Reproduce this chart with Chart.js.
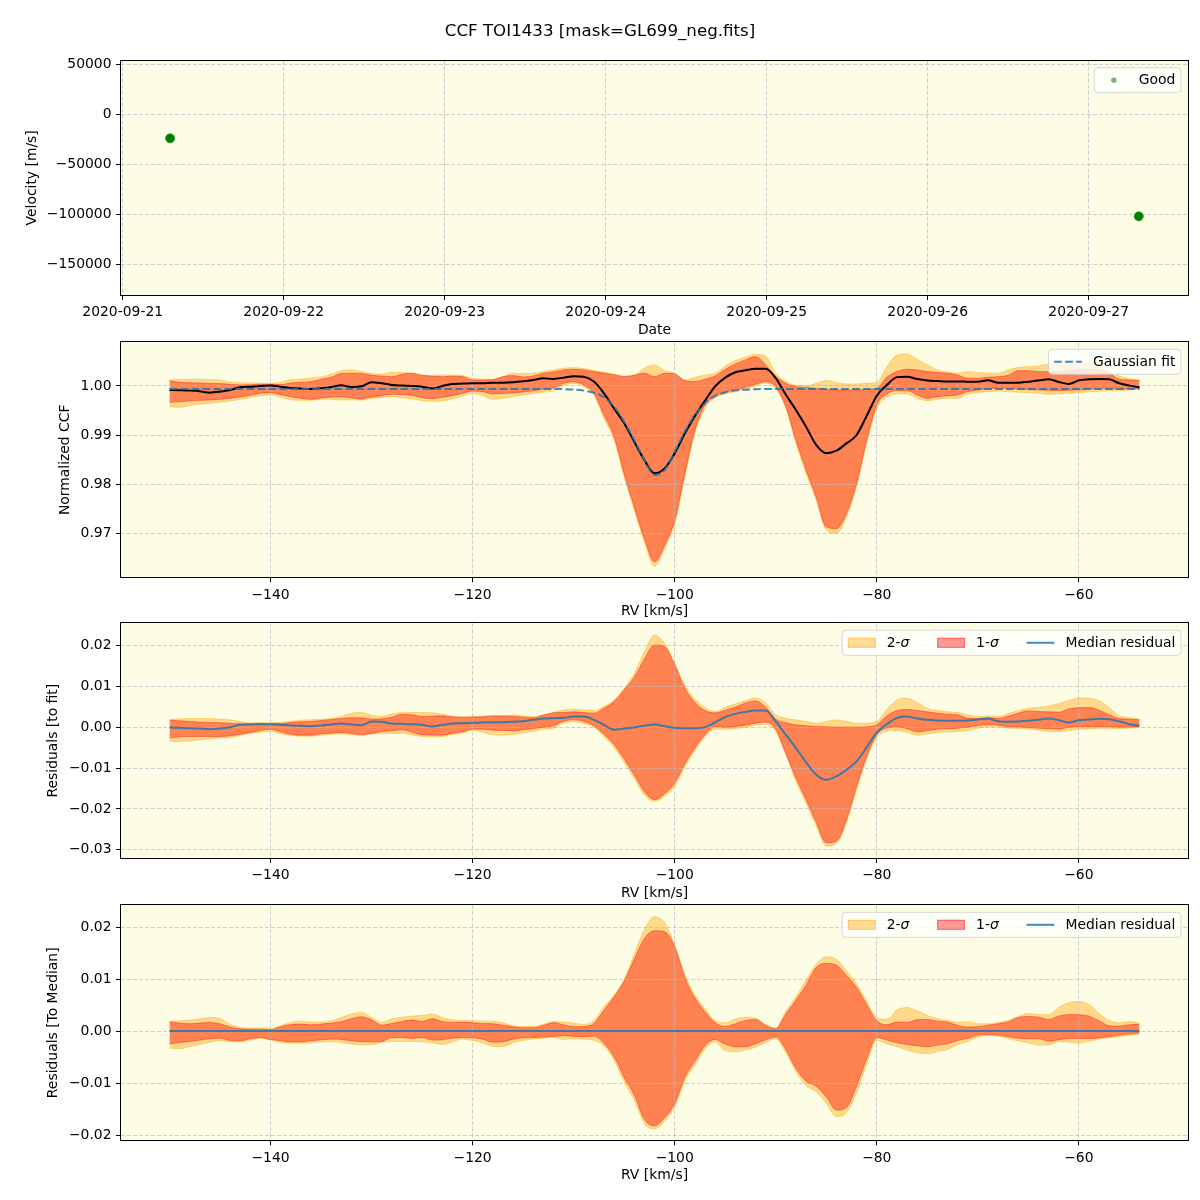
<!DOCTYPE html>
<html><head><meta charset="utf-8">
<script src="https://cdn.jsdelivr.net/npm/chart.js@4.4.1/dist/chart.umd.min.js"></script>
<style>
body{margin:0;background:#fff}
#wrap{position:relative;width:1200px;height:1200px}
#wrap canvas{position:absolute;left:0;top:0}
</style></head>
<body><div id="wrap">
<canvas id="c1" width="1200" height="1200"></canvas>
<canvas id="c2" width="1200" height="1200"></canvas>
<canvas id="c3" width="1200" height="1200"></canvas>
<canvas id="c4" width="1200" height="1200"></canvas>
</div>
<script>
// ---------------- DATA ----------------
const chartTitle = 'CCF TOI1433 [mask=GL699_neg.fits]';

// Panel 1: velocities
const obsDates = ['2020-09-21T07:04', '2020-09-27T07:28'];
const obsVelocity = [-24000, -102000];
const dateTicks = ['2020-09-21','2020-09-22','2020-09-23','2020-09-24','2020-09-25','2020-09-26','2020-09-27'];
const velTicks = [-150000, -100000, -50000, 0, 50000];

// RV grid (km/s)
const rv = [
-150,-149,-148,-147,-146,-145,-144,-143,-142,-141,
-140,-139,-138,-137,-136,-135,-134,-133,-132,-131,
-130,-129,-128,-127,-126,-125,-124,-123,-122,-121,
-120,-119,-118,-117,-116,-115,-114,-113,-112,-111,
-110,-109,-108,-107,-106,-105,-104,-103,-102,-101,
-100,-99,-98,-97,-96,-95,-94,-93,-92,-91,
-90,-89,-88,-87,-86,-85,-84,-83,-82,-81,
-80,-79,-78,-77,-76,-75,-74,-73,-72,-71,
-70,-69,-68,-67,-66,-65,-64,-63,-62,-61,
-60,-59,-58,-57,-56,-55,-54];
const rvTicks = [-140, -120, -100, -80, -60];

// Panel 2: normalized CCF
const ccfMedian = [
0.99918,0.99912,0.99905,0.99891,0.99864,0.99884,0.99918,0.99973,0.99986,1.00000,
1.00007,0.99986,0.99959,0.99946,0.99939,0.99952,0.99980,1.00014,0.99980,0.99993,
1.00075,1.00054,1.00020,1.00007,1.00000,0.99986,0.99946,1.00000,1.00041,1.00048,
1.00054,1.00054,1.00068,1.00068,1.00075,1.00095,1.00122,1.00156,1.00143,1.0017,
1.0020,1.0019,1.0009,0.9985,0.9954,0.9924,0.9886,0.9849,0.9822,0.9832,
0.9863,0.9903,0.9939,0.9970,0.9999,1.0017,1.0028,1.0032,1.0035,1.0035,
1.0016,0.9982,0.9951,0.9917,0.9880,0.9863,0.9868,0.9883,0.9900,0.9939,
0.9980,1.0002,1.0018,1.0019,1.0014,1.0011,1.0010,1.0009,1.0009,1.00088,
1.00088,1.00115,1.00068,1.00068,1.00068,1.00088,1.00109,1.00136,1.00081,1.00041,
1.00115,1.00136,1.00143,1.00136,1.00054,1.00007,0.99973];
const ccfGaussFit = [
0.9994,0.9994,0.9994,0.9994,0.9994,0.9994,0.9994,0.9994,0.9994,0.9994,
0.9994,0.9994,0.9994,0.9994,0.9994,0.9994,0.9994,0.9994,0.9994,0.9994,
0.9994,0.9994,0.9994,0.9994,0.9994,0.9994,0.9994,0.9994,0.9994,0.9994,
0.9994,0.9994,0.9994,0.9994,0.9994,0.9994,0.9994,0.9994,0.9994,0.99935,
0.99925,0.99905,0.99864,0.99769,0.99578,0.99272,0.98898,0.98490,0.98184,0.98286,
0.98660,0.99068,0.99408,0.99646,0.99796,0.99870,0.99910,0.99925,0.99935,0.9994,
0.9994,0.9994,0.9994,0.9994,0.9994,0.9994,0.9994,0.9994,0.9994,0.9994,
0.9994,0.9994,0.9994,0.9994,0.9994,0.9994,0.9994,0.9994,0.9994,0.9994,
0.9994,0.9994,0.9994,0.9994,0.9994,0.9994,0.9994,0.9994,0.9994,0.9994,
0.9994,0.9994,0.9994,0.9994,0.9994,0.9994,0.9994];
const ccfUpper2 = [
1.00116,1.00136,1.00136,1.00136,1.00129,1.00122,1.00082,1.00068,1.00061,1.00054,
1.00054,1.00075,1.00129,1.00143,1.00163,1.00184,1.00238,1.00313,1.00333,1.00293,
1.00252,1.00245,1.00279,1.00272,1.00259,1.00218,1.00211,1.00224,1.00224,1.00211,
1.00156,1.00136,1.00136,1.00190,1.00259,1.00252,1.00259,1.00293,1.00327,1.00361,
1.00374,1.00354,1.00313,1.00279,1.00238,1.00204,1.00224,1.00361,1.00429,1.00313,
1.00259,1.00122,1.00177,1.00224,1.00259,1.00408,1.00517,1.00585,1.00646,1.00612,
1.00259,1.00088,1.00020,1.00000,1.00054,1.00109,1.00068,1.00041,1.00041,1.00054,
1.00068,1.00395,1.00633,1.00653,1.00544,1.00429,1.00327,1.00286,1.00259,1.00292,
1.00272,1.00265,1.00258,1.00326,1.00380,1.00394,1.00407,1.00448,1.00468,1.00482,
1.00496,1.00475,1.00428,1.00312,1.00204,1.00149,1.00122];
const ccfUpper1 = [
1.00109,1.00075,1.00068,1.00061,1.00054,1.00048,1.00034,1.00020,1.00027,1.00034,
1.00034,1.00027,1.00061,1.00075,1.00088,1.00136,1.00177,1.00252,1.00259,1.00252,
1.00218,1.00204,1.00190,1.00238,1.00259,1.00218,1.00197,1.00190,1.00197,1.00190,
1.00122,1.00122,1.00129,1.00190,1.00211,1.00184,1.00204,1.00259,1.00286,1.00327,
1.00340,1.00327,1.00293,1.00259,1.00231,1.00190,1.00218,1.00259,1.00190,1.00259,
1.00245,1.00109,1.00088,1.00136,1.00204,1.00340,1.00449,1.00531,1.00599,1.00429,
1.00197,1.00054,0.99986,0.99973,0.99952,0.99932,0.99918,0.99918,0.99918,0.99932,
0.99952,1.00177,1.00293,1.00340,1.00327,1.00293,1.00272,1.00259,1.00224,1.00156,
1.00156,1.00177,1.00190,1.00217,1.00312,1.00312,1.00292,1.00292,1.00292,1.00326,
1.00339,1.00339,1.00326,1.00258,1.00136,1.00122,1.00109];
const ccfLower1 = [
0.99667,0.99680,0.99694,0.99707,0.99714,0.99728,0.99748,0.99776,0.99810,0.99850,
0.99864,0.99823,0.99782,0.99748,0.99728,0.99755,0.99776,0.99782,0.99755,0.99741,
0.99776,0.99803,0.99830,0.99823,0.99810,0.99762,0.99741,0.99769,0.99803,0.99850,
0.99898,0.99884,0.99837,0.99844,0.99857,0.99878,0.99905,0.99932,0.99959,1.00054,
1.00088,1.00020,0.99850,0.99408,0.98966,0.98218,0.97537,0.96891,0.96415,0.96755,
0.97265,0.98218,0.99102,0.99612,0.99796,0.99871,0.99918,0.99973,1.00034,1.00088,
0.99986,0.99578,0.98898,0.98286,0.97741,0.97129,0.97095,0.97401,0.98014,0.98898,
0.99612,0.99837,0.99905,0.99905,0.99816,0.99748,0.99782,0.99803,0.99816,0.99885,
0.99919,0.99939,0.99952,0.99952,0.99939,0.99925,0.99919,0.99912,0.99905,0.99912,
0.99919,0.99932,0.99946,0.99952,0.99932,0.99946,0.99952];
const ccfLower2 = [
0.99578,0.99565,0.99599,0.99626,0.99646,0.99667,0.99694,0.99728,0.99769,0.99803,
0.99816,0.99769,0.99721,0.99707,0.99707,0.99728,0.99728,0.99714,0.99714,0.99714,
0.99741,0.99762,0.99782,0.99762,0.99741,0.99701,0.99687,0.99694,0.99741,0.99796,
0.99844,0.99803,0.99728,0.99748,0.99782,0.99816,0.99844,0.99871,0.99905,1.00014,
1.00054,0.99986,0.99816,0.99340,0.98898,0.98150,0.97469,0.96823,0.96327,0.96687,
0.97197,0.98150,0.99034,0.99544,0.99762,0.99837,0.99884,0.99939,1.00000,1.00054,
0.99952,0.99544,0.98830,0.98218,0.97673,0.97061,0.96993,0.97333,0.97946,0.98830,
0.99544,0.99769,0.99837,0.99837,0.99748,0.99701,0.99728,0.99748,0.99748,0.99830,
0.99864,0.99885,0.99898,0.99885,0.99871,0.99864,0.99851,0.99830,0.99837,0.99851,
0.99864,0.99878,0.99891,0.99905,0.99905,0.99919,0.99932];
const ccfTicks = [0.97, 0.98, 0.99, 1.00];

// Panel 3: residuals to fit
const fitResMedian = [
-0.00008,-0.00016,-0.00024,-0.00033,-0.00049,-0.00033,0.00000,0.00057,0.00065,0.00073,
0.00073,0.00057,0.00041,0.00033,0.00024,0.00041,0.00065,0.00089,0.00065,0.00049,
0.00138,0.00130,0.00089,0.00081,0.00073,0.00057,0.00016,0.00057,0.00089,0.00098,
0.00106,0.00114,0.00122,0.00122,0.00130,0.00146,0.00179,0.00211,0.00220,0.00228,
0.00260,0.00260,0.00179,0.00057,-0.00065,-0.00033,-0.00008,0.00033,0.00065,0.00024,
-0.00016,-0.00024,-0.00024,0.00000,0.00114,0.00244,0.00325,0.00374,0.00407,0.00407,
0.00138,-0.00187,-0.00512,-0.00862,-0.01163,-0.01285,-0.01203,-0.01041,-0.00837,-0.00496,
-0.00130,0.00073,0.00228,0.00260,0.00211,0.00179,0.00163,0.00154,0.00154,0.00163,
0.00187,0.00203,0.00146,0.00130,0.00138,0.00154,0.00179,0.00211,0.00171,0.00114,
0.00171,0.00187,0.00203,0.00195,0.00146,0.00073,0.00033];
const fitResUpper2 = [
0.00179,0.00203,0.00211,0.00211,0.00211,0.00195,0.00179,0.00138,0.00106,0.00114,
0.00106,0.00114,0.00146,0.00171,0.00179,0.00195,0.00211,0.00260,0.00341,0.00358,
0.00293,0.00260,0.00325,0.00358,0.00358,0.00358,0.00350,0.00317,0.00260,0.00244,
0.00260,0.00268,0.00285,0.00285,0.00301,0.00276,0.00252,0.00301,0.00358,0.00423,
0.00439,0.00423,0.00407,0.00504,0.00667,0.00951,0.01317,0.01846,0.02252,0.02049,
0.01561,0.01033,0.00683,0.00480,0.00382,0.00488,0.00569,0.00650,0.00715,0.00585,
0.00301,0.00211,0.00179,0.00138,0.00098,0.00138,0.00179,0.00138,0.00098,0.00098,
0.00138,0.00439,0.00667,0.00707,0.00602,0.00455,0.00407,0.00374,0.00358,0.00301,
0.00260,0.00280,0.00260,0.00333,0.00407,0.00463,0.00480,0.00520,0.00577,0.00650,
0.00715,0.00707,0.00642,0.00480,0.00276,0.00236,0.00195];
const fitResUpper1 = [
0.00171,0.00154,0.00138,0.00122,0.00114,0.00106,0.00098,0.00081,0.00081,0.00089,
0.00089,0.00089,0.00114,0.00130,0.00138,0.00163,0.00187,0.00211,0.00228,0.00228,
0.00195,0.00203,0.00244,0.00317,0.00301,0.00260,0.00268,0.00276,0.00252,0.00244,
0.00244,0.00252,0.00268,0.00268,0.00260,0.00244,0.00228,0.00293,0.00350,0.00358,
0.00374,0.00358,0.00341,0.00463,0.00626,0.00911,0.01220,0.01667,0.02008,0.01967,
0.01520,0.00951,0.00602,0.00407,0.00350,0.00415,0.00488,0.00593,0.00642,0.00488,
0.00195,0.00106,0.00057,0.00033,0.00016,0.00008,0.00000,0.00000,0.00000,0.00008,
0.00057,0.00276,0.00407,0.00431,0.00407,0.00374,0.00341,0.00317,0.00301,0.00220,
0.00211,0.00235,0.00211,0.00268,0.00341,0.00398,0.00382,0.00374,0.00366,0.00447,
0.00472,0.00480,0.00415,0.00301,0.00211,0.00195,0.00179];
const fitResLower1 = [
-0.00268,-0.00236,-0.00228,-0.00228,-0.00228,-0.00228,-0.00211,-0.00171,-0.00130,-0.00081,
-0.00049,-0.00114,-0.00171,-0.00195,-0.00195,-0.00163,-0.00146,-0.00130,-0.00154,-0.00179,
-0.00154,-0.00106,-0.00089,-0.00065,-0.00122,-0.00187,-0.00195,-0.00195,-0.00146,-0.00114,
-0.00049,-0.00049,-0.00073,-0.00081,-0.00089,-0.00065,-0.00033,0.00000,0.00033,0.00146,
0.00179,0.00138,0.00033,-0.00171,-0.00423,-0.00780,-0.01171,-0.01577,-0.01772,-0.01626,
-0.01366,-0.00894,-0.00504,-0.00187,0.00016,0.00000,0.00016,0.00049,0.00098,0.00122,
-0.00049,-0.00634,-0.01244,-0.01772,-0.02325,-0.02829,-0.02789,-0.02260,-0.01447,-0.00715,
-0.00187,-0.00016,0.00008,-0.00041,-0.00114,-0.00090,-0.00049,-0.00041,-0.00024,0.00000,
0.00041,0.00057,0.00049,0.00016,0.00008,-0.00008,-0.00024,-0.00033,-0.00049,0.00000,
0.00016,0.00016,0.00016,0.00016,0.00000,0.00008,0.00016];
const fitResLower2 = [
-0.00350,-0.00350,-0.00341,-0.00309,-0.00285,-0.00260,-0.00252,-0.00203,-0.00146,-0.00122,
-0.00098,-0.00163,-0.00203,-0.00220,-0.00220,-0.00195,-0.00179,-0.00163,-0.00187,-0.00211,
-0.00163,-0.00163,-0.00154,-0.00146,-0.00187,-0.00228,-0.00236,-0.00228,-0.00179,-0.00146,
-0.00073,-0.00130,-0.00187,-0.00195,-0.00179,-0.00138,-0.00098,-0.00049,-0.00024,0.00106,
0.00130,0.00089,0.00000,-0.00228,-0.00496,-0.00862,-0.01252,-0.01659,-0.01813,-0.01691,
-0.01447,-0.00976,-0.00569,-0.00244,-0.00049,-0.00049,-0.00033,0.00000,0.00049,0.00073,
-0.00114,-0.00675,-0.01325,-0.01854,-0.02407,-0.02911,-0.02846,-0.02341,-0.01528,-0.00780,
-0.00252,-0.00098,-0.00081,-0.00130,-0.00195,-0.00163,-0.00130,-0.00114,-0.00106,-0.00081,
-0.00024,0.00008,0.00008,-0.00024,-0.00033,-0.00049,-0.00073,-0.00098,-0.00106,-0.00081,
-0.00057,-0.00041,-0.00024,-0.00024,-0.00033,-0.00024,-0.00016];
const fitResTicks = [-0.03, -0.02, -0.01, 0.00, 0.01, 0.02];

// Panel 4: residuals to median
const medResLineX = [-150, -54];
const medResLineY = [0, 0];
const medResUpper2 = [
0.00186,0.00199,0.00212,0.00237,0.00263,0.00244,0.00128,0.00071,0.00058,0.00058,
0.00045,0.00109,0.00167,0.00192,0.00173,0.00173,0.00199,0.00263,0.00327,0.00365,
0.00263,0.00167,0.00237,0.00269,0.00288,0.00301,0.00327,0.00263,0.00218,0.00199,
0.00199,0.00192,0.00186,0.00160,0.00103,0.00090,0.00090,0.00135,0.00186,0.00173,
0.00154,0.00128,0.00205,0.00468,0.00692,0.00994,0.01481,0.01955,0.02199,0.02083,
0.01654,0.01096,0.00692,0.00436,0.00199,0.00160,0.00231,0.00269,0.00250,0.00128,
0.00058,0.00385,0.00660,0.00981,0.01288,0.01429,0.01378,0.01167,0.00904,0.00577,
0.00256,0.00231,0.00404,0.00455,0.00391,0.00301,0.00237,0.00205,0.00170,0.00180,
0.00141,0.00141,0.00167,0.00205,0.00282,0.00340,0.00321,0.00314,0.00455,0.00545,
0.00571,0.00513,0.00340,0.00205,0.00160,0.00186,0.00154];
const medResUpper1 = [
0.00179,0.00154,0.00141,0.00154,0.00167,0.00141,0.00077,0.00045,0.00038,0.00038,
0.00026,0.00083,0.00128,0.00135,0.00122,0.00135,0.00154,0.00179,0.00237,0.00276,
0.00218,0.00115,0.00147,0.00186,0.00212,0.00186,0.00237,0.00186,0.00167,0.00173,
0.00160,0.00147,0.00141,0.00115,0.00083,0.00064,0.00064,0.00109,0.00160,0.00122,
0.00083,0.00090,0.00147,0.00404,0.00660,0.00962,0.01385,0.01782,0.01929,0.01910,
0.01622,0.01032,0.00635,0.00372,0.00160,0.00090,0.00141,0.00205,0.00224,0.00109,
0.00045,0.00327,0.00596,0.00885,0.01224,0.01301,0.01269,0.01070,0.00840,0.00513,
0.00199,0.00122,0.00173,0.00167,0.00218,0.00224,0.00192,0.00173,0.00110,0.00080,
0.00083,0.00115,0.00141,0.00180,0.00263,0.00282,0.00269,0.00224,0.00288,0.00321,
0.00314,0.00288,0.00199,0.00103,0.00096,0.00122,0.00135];
const medResLower1 = [
-0.00250,-0.00218,-0.00199,-0.00173,-0.00147,-0.00135,-0.00180,-0.00186,-0.00147,-0.00122,
-0.00160,-0.00186,-0.00205,-0.00205,-0.00186,-0.00167,-0.00154,-0.00160,-0.00186,-0.00199,
-0.00205,-0.00199,-0.00122,-0.00122,-0.00141,-0.00122,-0.00173,-0.00167,-0.00135,-0.00122,
-0.00128,-0.00154,-0.00212,-0.00205,-0.00154,-0.00128,-0.00122,-0.00115,-0.00103,-0.00083,
-0.00103,-0.00109,-0.00096,-0.00237,-0.00494,-0.00891,-0.01231,-0.01699,-0.01820,-0.01667,
-0.01391,-0.00891,-0.00577,-0.00282,-0.00160,-0.00250,-0.00301,-0.00301,-0.00244,-0.00167,
-0.00115,-0.00353,-0.00718,-0.00962,-0.01058,-0.01263,-0.01519,-0.01468,-0.01051,-0.00532,
-0.00122,-0.00173,-0.00224,-0.00256,-0.00282,-0.00301,-0.00269,-0.00244,-0.00180,-0.00140,
-0.00077,-0.00064,-0.00077,-0.00109,-0.00135,-0.00147,-0.00147,-0.00192,-0.00167,-0.00141,
-0.00141,-0.00147,-0.00128,-0.00103,-0.00077,-0.00051,-0.00038];
const medResLower2 = [
-0.00327,-0.00340,-0.00301,-0.00256,-0.00212,-0.00180,-0.00205,-0.00205,-0.00173,-0.00135,
-0.00173,-0.00212,-0.00231,-0.00231,-0.00218,-0.00205,-0.00205,-0.00224,-0.00250,-0.00263,
-0.00263,-0.00212,-0.00199,-0.00199,-0.00199,-0.00205,-0.00224,-0.00256,-0.00205,-0.00154,
-0.00180,-0.00224,-0.00295,-0.00295,-0.00224,-0.00180,-0.00154,-0.00135,-0.00122,-0.00160,
-0.00147,-0.00154,-0.00173,-0.00288,-0.00558,-0.00981,-0.01327,-0.01776,-0.01878,-0.01731,
-0.01455,-0.00962,-0.00647,-0.00346,-0.00205,-0.00378,-0.00397,-0.00365,-0.00308,-0.00218,
-0.00147,-0.00417,-0.00782,-0.01051,-0.01167,-0.01391,-0.01647,-0.01564,-0.01179,-0.00628,
-0.00173,-0.00244,-0.00301,-0.00365,-0.00417,-0.00436,-0.00391,-0.00353,-0.00260,-0.00200,
-0.00115,-0.00083,-0.00096,-0.00147,-0.00186,-0.00224,-0.00269,-0.00269,-0.00199,-0.00212,
-0.00231,-0.00192,-0.00154,-0.00128,-0.00109,-0.00077,-0.00058];
const medResTicks = [-0.02, -0.01, 0.00, 0.01, 0.02];

// ---------------- STYLE ----------------
const FS = 13.9;
const FONT = "'DejaVu Sans', sans-serif";
const BG = 'rgb(253,252,228)';
const GRID = 'rgba(185,185,198,0.7)';
const C2S = 'rgba(255,165,0,0.4)';
const C1S = 'rgba(255,0,0,0.4)';
const CBLUE = 'rgba(31,119,180,0.85)';
Chart.defaults.font.family = FONT;
Chart.defaults.color = '#000';

(function check(){
  const arrs = {ccfMedian, ccfGaussFit, ccfUpper2, ccfUpper1, ccfLower1, ccfLower2,
    fitResMedian, fitResUpper2, fitResUpper1, fitResLower1, fitResLower2,
    medResUpper2, medResUpper1, medResLower1, medResLower2};
  for (const k in arrs) if (arrs[k].length !== rv.length) console.error('length mismatch', k, arrs[k].length);
})();

const pts = (xs, ys) => xs.map((x, i) => ({x, y: ys[i]}));
const minus = s => s.replace('-', '\u2212');
const dayMs = 86400000;
const baseT = Date.parse(dateTicks[0] + 'T00:00Z');
const toDay = s => (Date.parse(s.length > 10 ? s + 'Z' : s + 'T00:00Z') - baseT) / dayMs;

function roundRect(ctx, x, y, w, h, r) {
  ctx.beginPath();
  ctx.moveTo(x + r, y); ctx.lineTo(x + w - r, y); ctx.arcTo(x + w, y, x + w, y + r, r);
  ctx.lineTo(x + w, y + h - r); ctx.arcTo(x + w, y + h, x + w - r, y + h, r);
  ctx.lineTo(x + r, y + h); ctx.arcTo(x, y + h, x, y + h - r, r);
  ctx.lineTo(x, y + r); ctx.arcTo(x, y, x + r, y, r); ctx.closePath();
}
function partFont(p) { return (p.it ? 'italic ' : '') + FS + 'px ' + FONT; }
function labelWidth(ctx, parts) {
  let w = 0; for (const p of parts) { ctx.font = partFont(p); w += ctx.measureText(p.t).width; } return w;
}
function drawLegend(ctx, a, items) {
  const pad = 5.6, hl = 27.8, htp = 11.1, cs = 27.8, h = 25;
  const widths = items.map(it => labelWidth(ctx, it.label));
  let w = 2 * pad + (items.length - 1) * cs;
  items.forEach((it, i) => { w += hl + htp + widths[i]; });
  const x1 = a.right - 7 - w, y1 = a.top + 7;
  ctx.save();
  roundRect(ctx, x1, y1, w, h, 3.5);
  ctx.fillStyle = 'rgba(255,255,255,0.8)'; ctx.fill();
  ctx.strokeStyle = 'rgba(204,204,204,0.8)'; ctx.lineWidth = 1; ctx.stroke();
  const cy = y1 + h / 2;
  let x = x1 + pad;
  items.forEach((it, i) => {
    if (it.type === 'marker') {
      ctx.fillStyle = it.color; ctx.beginPath(); ctx.arc(x + hl / 2, cy, it.r, 0, Math.PI * 2); ctx.fill();
    } else if (it.type === 'patch') {
      ctx.fillStyle = it.color; ctx.fillRect(x, cy - 5, hl, 10);
      ctx.strokeStyle = it.color; ctx.lineWidth = 1; ctx.strokeRect(x + 0.5, cy - 4.5, hl - 1, 9);
    } else {
      ctx.strokeStyle = it.color; ctx.lineWidth = 2; ctx.setLineDash(it.dash || []);
      ctx.beginPath(); ctx.moveTo(x, cy); ctx.lineTo(x + hl, cy); ctx.stroke(); ctx.setLineDash([]);
    }
    let tx = x + hl + htp;
    ctx.fillStyle = '#000'; ctx.textBaseline = 'middle'; ctx.textAlign = 'left';
    for (const p of it.label) { ctx.font = partFont(p); ctx.fillText(p.t, tx, cy + 0.5); tx += ctx.measureText(p.t).width; }
    x += hl + htp + widths[i] + cs;
  });
  ctx.restore();
}
function panelPlugin(legendItems, withTitle) {
  return {
    id: 'panelDecor',
    beforeDraw(chart) {
      const {ctx, chartArea: a} = chart;
      ctx.save(); ctx.globalCompositeOperation = 'destination-over';
      ctx.fillStyle = BG; ctx.fillRect(a.left, a.top, a.right - a.left, a.bottom - a.top);
      ctx.restore();
    },
    afterDraw(chart) {
      const {ctx, chartArea: a} = chart;
      ctx.save();
      ctx.strokeStyle = '#000'; ctx.lineWidth = 1;
      const l = Math.round(a.left) - 0.5, t = Math.round(a.top) - 0.5;
      const r = Math.round(a.right) + 0.5, b = Math.round(a.bottom) + 0.5;
      ctx.strokeRect(l, t, r - l, b - t);
      ctx.restore();
      drawLegend(ctx, a, legendItems);
      if (withTitle) {
        ctx.save(); ctx.font = '16.67px ' + FONT; ctx.fillStyle = '#000';
        ctx.textAlign = 'center'; ctx.textBaseline = 'middle';
        ctx.fillText(chartTitle, 600, 32); ctx.restore();
      }
    }
  };
}
function axisCommon(tickVals, fmt) {
  return {
    afterBuildTicks: s => { s.ticks = tickVals.map(v => ({value: v})); },
    grid: {color: GRID, lineWidth: 1, tickColor: '#000', tickLength: 5, tickWidth: 1, drawTicks: true},
    border: {display: false, dash: [4, 2]},
    ticks: {font: {size: FS}, color: '#000', padding: 4.5, maxRotation: 0, autoSkip: false, callback: fmt}
  };
}
function makeChart(id, cfg) {
  const xs = Object.assign(axisCommon(cfg.xTicks, cfg.xFmt), {
    type: 'linear', position: 'bottom', min: cfg.xMin, max: cfg.xMax,
    afterFit: s => { s.height = cfg.xH; s.paddingLeft = 0; s.paddingRight = 0; },
    title: {display: true, text: cfg.xTitle, color: '#000', font: {size: FS, lineHeight: 1.2}, padding: {top: 0, bottom: cfg.xTitlePad}}
  });
  const ys = Object.assign(axisCommon(cfg.yTicks, cfg.yFmt), {
    type: 'linear', position: 'left', min: cfg.yMin, max: cfg.yMax,
    afterFit: s => { s.width = 121; s.paddingTop = 0; s.paddingBottom = 0; },
    title: {display: true, text: cfg.yTitle, color: '#000', font: {size: FS, lineHeight: 1.2}, padding: {top: cfg.yTitlePad, bottom: 0}}
  });
  return new Chart(document.getElementById(id), {
    type: 'line',
    data: {datasets: cfg.datasets},
    options: {
      responsive: false, animation: false, devicePixelRatio: 1,
      layout: {padding: {top: cfg.top, right: 12, bottom: cfg.bottom, left: 0}, autoPadding: false},
      plugins: {legend: {display: false}, tooltip: {enabled: false}, filler: {drawTime: 'beforeDraw', propagate: false}},
      elements: {point: {radius: 0, hoverRadius: 0}},
      scales: {x: xs, y: ys}
    },
    plugins: [panelPlugin(cfg.legend, cfg.withTitle)]
  });
}
const band = (ys, color, fill) => ({data: pts(rv, ys), borderColor: color, backgroundColor: color, borderWidth: 1, fill: fill, cubicInterpolationMode: 'monotone', pointRadius: 0});
const lineDs = (xs, ys, color, width, dash) => ({data: pts(xs, ys), borderColor: color, borderWidth: width, borderDash: dash || [], fill: false, cubicInterpolationMode: 'monotone', pointRadius: 0});
const fmtFix = d => v => minus(v.toFixed(d));
const sigmaLegend = [
  {type: 'patch', color: C2S, label: [{t: '2-'}, {t: '\u03c3', it: true}]},
  {type: 'patch', color: C1S, label: [{t: '1-'}, {t: '\u03c3', it: true}]},
  {type: 'line', color: CBLUE, label: [{t: 'Median residual'}]}
];

// Panel 1
makeChart('c1', {
  top: 60.7, bottom: 860, xH: 45, xTitlePad: 1.66, yTitlePad: 23.7, withTitle: true,
  xMin: -0.0106, xMax: 6.617, xTicks: dateTicks.map(toDay), xFmt: (v, i) => dateTicks[i], xTitle: 'Date',
  yMin: -180700, yMax: 53600, yTicks: velTicks, yFmt: v => minus(String(v)), yTitle: 'Velocity [m/s]',
  legend: [{type: 'marker', color: 'rgba(0,128,0,0.55)', r: 2.7, label: [{t: 'Good'}]}],
  datasets: [{data: pts(obsDates.map(toDay), obsVelocity), showLine: false, pointRadius: 4.6, pointBackgroundColor: '#008000', pointBorderColor: '#1a8a1a', pointBorderWidth: 0.5}]
});
// Panel 2
makeChart('c2', {
  top: 342.3, bottom: 577, xH: 45.7, xTitlePad: 3.66, yTitlePad: 57.2,
  xMin: -154.8, xMax: -49.2, xTicks: rvTicks, xFmt: v => minus(String(v)), xTitle: 'RV [km/s]',
  yMin: 0.9610, yMax: 1.0089, yTicks: ccfTicks, yFmt: fmtFix(2), yTitle: 'Normalized CCF',
  legend: [{type: 'line', color: CBLUE, dash: [7.7, 3.3], label: [{t: 'Gaussian fit'}]}],
  datasets: [
    lineDs(rv, ccfGaussFit, CBLUE, 2, [7.7, 3.3]),
    lineDs(rv, ccfMedian, '#000', 2),
    band(ccfUpper1, C1S, '+1'), band(ccfLower1, C1S, false),
    band(ccfUpper2, C2S, '+1'), band(ccfLower2, C2S, false)
  ]
});
// Panel 3
makeChart('c3', {
  top: 623.3, bottom: 295, xH: 47, xTitlePad: 3.66, yTitlePad: 45.1,
  xMin: -154.8, xMax: -49.2, xTicks: rvTicks, xFmt: v => minus(String(v)), xTitle: 'RV [km/s]',
  yMin: -0.0320, yMax: 0.0254, yTicks: fitResTicks, yFmt: fmtFix(2), yTitle: 'Residuals [to fit]',
  legend: sigmaLegend,
  datasets: [
    lineDs(rv, fitResMedian, CBLUE, 2),
    band(fitResUpper1, C1S, '+1'), band(fitResLower1, C1S, false),
    band(fitResUpper2, C2S, '+1'), band(fitResLower2, C2S, false)
  ]
});
// Panel 4
makeChart('c4', {
  top: 905.3, bottom: 0, xH: 59.7, xTitlePad: 16.66, yTitlePad: 45.1,
  xMin: -154.8, xMax: -49.2, xTicks: rvTicks, xFmt: v => minus(String(v)), xTitle: 'RV [km/s]',
  yMin: -0.0210, yMax: 0.0242, yTicks: medResTicks, yFmt: fmtFix(2), yTitle: 'Residuals [To Median]',
  legend: sigmaLegend,
  datasets: [
    lineDs(medResLineX, medResLineY, CBLUE, 2),
    band(medResUpper1, C1S, '+1'), band(medResLower1, C1S, false),
    band(medResUpper2, C2S, '+1'), band(medResLower2, C2S, false)
  ]
});
</script>
</body></html>
